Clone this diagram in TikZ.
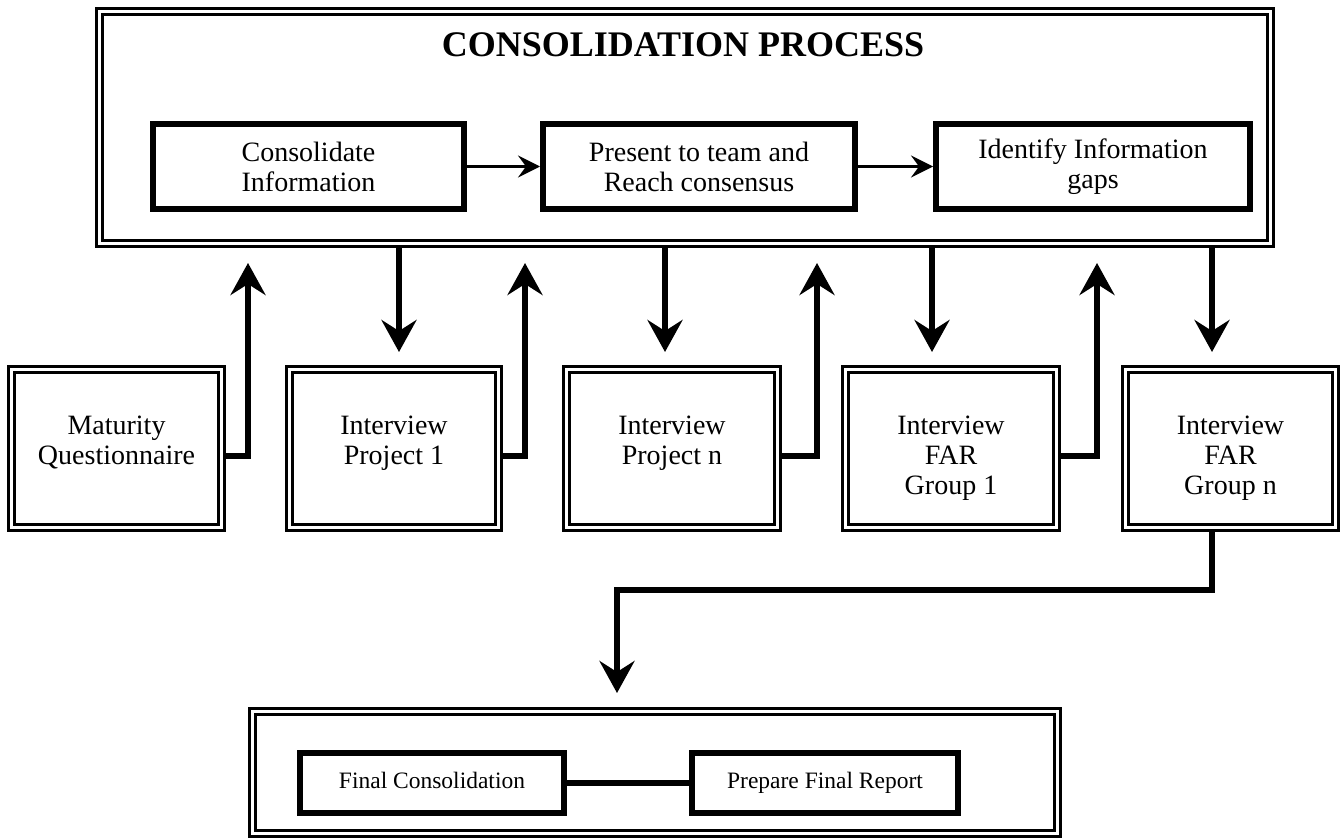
\documentclass[tikz,border=0pt]{standalone}
\usepackage{fontspec}
\setmainfont{Liberation Serif}
\usetikzlibrary{arrows.meta}
\newcommand{\lowtext}[1]{\parbox[c][158.4pt][t]{205pt}{\centering\rule{0pt}{64.7pt}#1}}
\tikzset{
  dbox/.style={draw, line width=2.8pt, double, double distance=3pt, inner sep=0pt, outer sep=4.3pt},
  lowbox/.style={dbox, minimum height=158.4pt, font=\fontsize{28}{30}\selectfont},
  pbox/.style={draw, line width=6pt, inner sep=0pt, outer sep=3pt, minimum height=85pt, align=center, font=\fontsize{28}{30}\selectfont},
  endbox/.style={draw, line width=6pt, inner sep=0pt, outer sep=3pt, minimum height=60pt, text height=16pt, text depth=5pt, font=\fontsize{23.5}{26}\selectfont},
  bigarrow/.style={line width=6pt, -{Stealth[length=32pt,width=35pt,inset=11pt]}},
  smallarrow/.style={line width=2.5pt, -{Stealth[length=22pt,width=22pt,inset=8pt]}},
  link/.style={line width=6pt}
}
\begin{document}
\begin{tikzpicture}[x=1pt,y=-1pt]
\useasboundingbox (0,0) rectangle (1343,840);

% top consolidation process box
\node[dbox, minimum width=1171.4pt, minimum height=232.4pt] (top) at (685,127.5) {};
\node[anchor=base, font=\fontsize{36}{40}\selectfont\bfseries] (title) at (683,57) {CONSOLIDATION PROCESS};
\node[pbox, minimum width=311pt] (c1) at (308.5,166.5) {Consolidate\\Information};
\node[pbox, minimum width=312pt] (c2) at (699,166.5) {Present to team and\\Reach consensus};
\node[pbox, minimum width=314pt] (c3) at (1093,166.5) {Identify Information\\gaps};
\draw[smallarrow] (c1.east) -- (c2.west);
\draw[smallarrow] (c2.east) -- (c3.west);

% lower row
\node[lowbox, minimum width=210.4pt] (mat) at (116.5,448.5) {\lowtext{Maturity\\Questionnaire}};
\node[lowbox, minimum width=209.4pt] (p1) at (394,448.5) {\lowtext{Interview\\Project 1}};
\node[lowbox, minimum width=211.4pt] (pn) at (672,448.5) {\lowtext{Interview\\Project n}};
\node[lowbox, minimum width=211.4pt] (f1) at (951,448.5) {\lowtext{Interview\\FAR\\Group 1}};
\node[lowbox, minimum width=210.4pt] (fn) at (1230.5,448.5) {\lowtext{Interview\\FAR\\Group n}};

% arrow tip points
\coordinate (u1) at (248,263);
\coordinate (u2) at (525,263);
\coordinate (u3) at (817,263);
\coordinate (u4) at (1097,263);
\coordinate (d1) at (399,352);
\coordinate (d2) at (665,352);
\coordinate (d3) at (932,352);
\coordinate (d4) at (1212,352);
\coordinate (turn) at (617,590);
\coordinate (btip) at (617,693);

\draw[bigarrow] ([yshift=-7.5pt]mat.east) -| (u1);
\draw[bigarrow] ([yshift=-7.5pt]p1.east) -| (u2);
\draw[bigarrow] ([yshift=-7.5pt]pn.east) -| (u3);
\draw[bigarrow] ([yshift=-7.5pt]f1.east) -| (u4);
\draw[bigarrow] (d1 |- top.south) -- (d1);
\draw[bigarrow] (d2 |- top.south) -- (d2);
\draw[bigarrow] (d3 |- top.south) -- (d3);
\draw[bigarrow] (d4 |- top.south) -- (d4);

% final box
\node[dbox, minimum width=805.4pt, minimum height=122.4pt] (bot) at (655,772.5) {};
\node[endbox, minimum width=264pt] (final) at (432,783) {Final Consolidation};
\node[endbox, minimum width=266pt] (prep) at (825,783) {Prepare Final Report};
\draw[link] (final.east) -- (prep.west);
\draw[bigarrow] (d4 |- fn.south) -- (d4 |- turn) -- (turn) -- (btip);
\end{tikzpicture}
\end{document}
